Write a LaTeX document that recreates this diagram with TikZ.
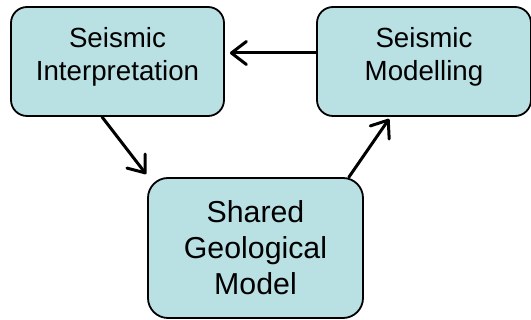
\documentclass[tikz,border=0pt]{standalone}
\usepackage{fontspec}
\setmainfont{Liberation Sans}
\usetikzlibrary{arrows.meta}
\definecolor{boxfill}{RGB}{185,224,227}
\tikzset{
  box/.style={draw=black, line width=1.8pt, fill=boxfill, rounded corners=16pt, inner sep=0pt},
  smalltxt/.style={align=center, inner sep=0pt, anchor=north, font=\fontsize{27.7}{32.7}\selectfont},
  bigtxt/.style={align=center, inner sep=0pt, anchor=north, font=\fontsize{30.3}{36.2}\selectfont},
  arr/.style={line width=3pt, -{Straight Barb[length=15pt,width=23pt,line cap=round,line join=round]}, line cap=round}
}
\begin{document}
\begin{tikzpicture}[x=1pt,y=-1pt]
\useasboundingbox (0,0) rectangle (531,320);
\node[box, minimum width=213pt, minimum height=109pt] (b1) at (117.5,61.5) {};
\node[box, minimum width=214pt, minimum height=109pt] (b2) at (424,61.5) {};
\node[box, rounded corners=20pt, minimum width=215pt, minimum height=140pt] (b3) at (255.5,248) {};
\node[smalltxt] (t1) at (117.5,27.5) {Seismic\\Interpretation};
\node[smalltxt] (t2) at (424,27.5) {Seismic\\Modelling};
\node[bigtxt] (t3) at (255.5,200.3) {Shared\\Geological\\Model};
\draw[arr] ([yshift=8.5pt]b2.west) -- ([yshift=8.5pt,xshift=5pt]b1.east);
\draw[arr] ([xshift=-15.5pt]b1.south) -- ([xshift=-1pt,yshift=3pt]b3.north west);
\draw[arr] ([xshift=-15pt]b3.north east) -- ([xshift=73pt,yshift=-2pt]b2.south west);
\end{tikzpicture}
\end{document}
